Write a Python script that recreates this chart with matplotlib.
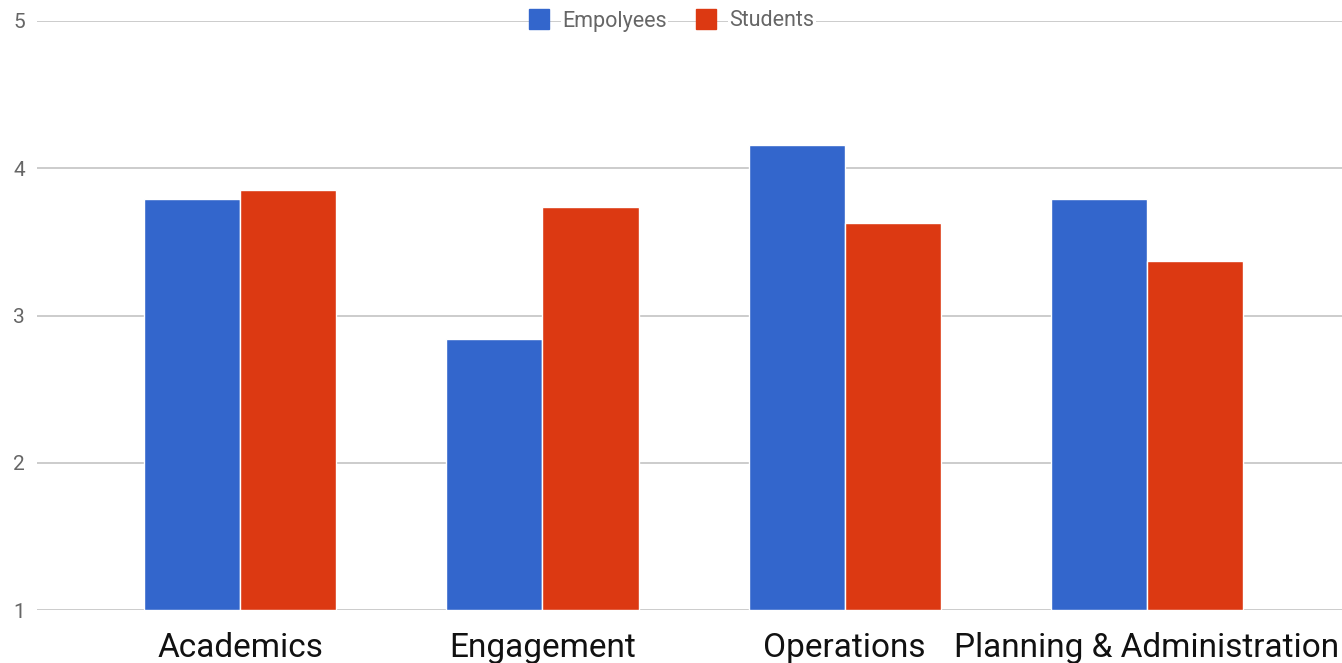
import matplotlib.pyplot as plt
from matplotlib.lines import Line2D
import numpy as np

plt.rcParams['font.family'] = ['Roboto', 'DejaVu Sans']

categories = ['Academics', 'Engagement', 'Operations', 'Planning & Administration']
employees = [3.79, 2.84, 4.16, 3.79]
students = [3.85, 3.74, 3.63, 3.37]

BLUE = '#3366cc'
RED = '#dc3912'


def main():
    fig = plt.figure(figsize=(13.42, 6.63), dpi=100)
    ax = fig.add_axes([37 / 1342, 1 - 610 / 663, 1 - 37 / 1342, (610 - 21) / 663])

    x = np.arange(len(categories))
    w = 0.318
    ax.bar(x - w / 2, np.array(employees) - 1, w, bottom=1, color=BLUE,
           edgecolor='white', linewidth=1, zorder=3)
    ax.bar(x + w / 2, np.array(students) - 1, w, bottom=1, color=RED,
           edgecolor='white', linewidth=1, zorder=3)

    ax.set_xlim(-0.672, 3.645)
    ax.set_ylim(1, 5)
    ax.set_yticks([1, 2, 3, 4, 5])
    ax.grid(axis='y', color='#c8c8c8', linewidth=1.3, zorder=0)
    ax.set_axisbelow(True)
    for s in ax.spines.values():
        s.set_visible(False)
    ax.tick_params(axis='y', length=0, pad=0, labelsize=15, labelcolor='#666666')
    ax.tick_params(axis='x', length=0, pad=16, labelsize=24, labelcolor='#111111')
    ax.set_xticks(x)
    ax.set_xticklabels(categories)
    for lbl in ax.get_yticklabels():
        lbl.set_horizontalalignment('left')
        lbl.set_x(-24 / 1305)

    handles = [
        Line2D([], [], marker='s', linestyle='none', markersize=15,
               markerfacecolor=BLUE, markeredgecolor=BLUE),
        Line2D([], [], marker='s', linestyle='none', markersize=15,
               markerfacecolor=RED, markeredgecolor=RED),
    ]
    leg = fig.legend(handles, ['Empolyees', 'Students'], loc='center',
                     bbox_to_anchor=(671 / 1342, 1 - 21 / 663), ncol=2,
                     frameon=False, fontsize=15.5, handletextpad=0.6,
                     columnspacing=1.3, handlelength=1.0)
    for t in leg.get_texts():
        t.set_color('#666666')
        t.set_bbox(dict(facecolor='white', edgecolor='none', pad=1))

    fig.savefig('out.png', dpi=100)


if __name__ == "__main__":
    main()
